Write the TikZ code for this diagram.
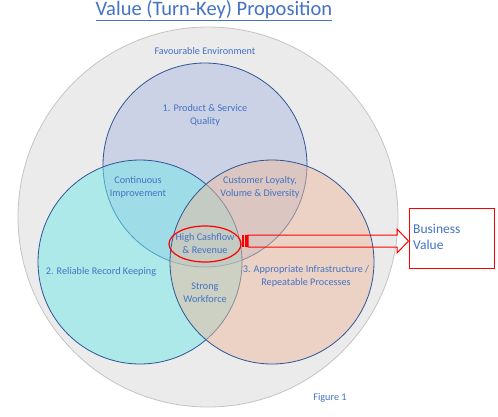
\documentclass[tikz,border=0pt]{standalone}
\usepackage{fontspec}
\setmainfont{Carlito}
\usetikzlibrary{shapes.geometric,calc}
\definecolor{txtblue}{HTML}{4472C4}
\definecolor{ringblue}{HTML}{2F5597}
\definecolor{envgrey}{HTML}{EBEBEB}
\definecolor{envline}{HTML}{C4C4C4}
\definecolor{topc}{RGB}{175,187,225}
\definecolor{leftc}{RGB}{113,233,233}
\definecolor{rightc}{RGB}{235,187,159}
\begin{document}
\begin{tikzpicture}[x=1pt,y=-1pt,
  lbl/.style={text=txtblue,font=\fontsize{10.2}{13}\selectfont,align=center,inner sep=0pt},
  venn/.style={circle,draw=ringblue,line width=0.8pt,minimum size=204pt,inner sep=0pt,fill opacity=0.5,draw opacity=1},
  redline/.style={draw=red,line width=1pt}]
\useasboundingbox (0,0) rectangle (498,416);
\fill[white] (0,0) rectangle (498,416);
% title
\node[text=txtblue,font=\fontsize{20.5}{24}\selectfont,inner sep=0pt] (title) at (214,11) {\underline{Value (Turn-Key) Proposition}};
% environment
\node[circle,minimum size=380pt,inner sep=0pt,draw=envline,line width=0.8pt,fill=envgrey] (env) at (208,217) {};
% venn circles
\node[venn,fill=topc] (c1) at (205,165) {};
\node[venn,fill=leftc] (c2) at (140,262) {};
\node[venn,fill=rightc] (c3) at (272,262) {};
% labels
\node[lbl] (fav) at (205,51) {Favourable Environment};
\node[lbl] (l1) at (205,115) {1. Product \& Service\\Quality};
\node[lbl] (l12) at (138,187) {Continuous\\Improvement};
\node[lbl] (l13) at (260,187) {Customer Loyalty,\\Volume \& Diversity};
\node[lbl] (l2) at (101,272) {2. Reliable Record Keeping};
\node[lbl] (l3) at (306,276) {3. Appropriate Infrastructure /\\Repeatable Processes};
\node[lbl] (l23) at (205,293) {Strong\\Workforce};
\node[ellipse,draw=red,line width=1.2pt,minimum width=72pt,minimum height=36pt,inner sep=0pt] (hc) at (205,244) {};
\node[lbl] (hct) at (205,243.5) {High Cashflow\\\& Revenue};
% business value box
\node[redline,rectangle,minimum width=85pt,minimum height=60pt,inner sep=0pt] (bv) at (451.5,238) {};
\node[text=txtblue,font=\fontsize{13.5}{15.5}\selectfont,align=left,anchor=west,inner sep=0pt] (bvt) at (413,237) {Business\\Value};
% striped block arrow
\fill[red] (hc.east |- 0,235) rectangle (243.8,247);
\fill[red] (245.2,235) rectangle (247.8,247);
\draw[redline,line join=miter] (248,235) -- (397,235) -- (397,229) -- (bv.west |- 0,241) -- (397,253) -- (397,247) -- (248,247) -- cycle;
% figure caption
\node[lbl] (fig) at (330,398) {Figure 1};
\end{tikzpicture}
\end{document}
